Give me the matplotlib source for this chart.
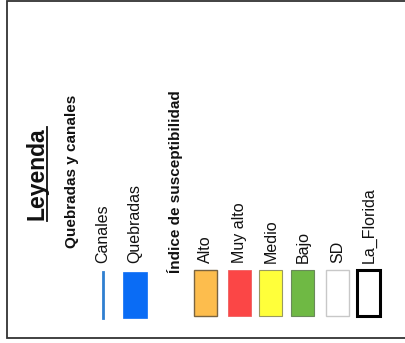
import matplotlib

matplotlib.use("Agg")

import matplotlib.pyplot as plt
from matplotlib.patches import Rectangle

plt.rcParams["font.family"] = ["Liberation Sans", "DejaVu Sans"]

# legend content
title = "Leyenda"
group_titles = ["Quebradas y canales", "Índice de susceptibilidad"]
drain_labels = ["Canales", "Quebradas"]
drain_colors = ["#2f7fd0", "#0a6cf5"]
index_labels = ["Alto", "Muy alto", "Medio", "Bajo", "SD", "La_Florida"]
index_faces = ["#fdbd4d", "#fb4646", "#ffff3a", "#6fb944", "#ffffff", "#ffffff"]
index_edges = ["#7a6440", "#f06060", "#9a9a60", "#6a8a5a", "#c8c8c8", "#000000"]
index_widths = [1.0, 0.6, 0.8, 0.8, 1.0, 2.2]

W, H = 406, 343
fig = plt.figure(figsize=(W / 100, H / 100), dpi=100)
ax = fig.add_axes([0, 0, 1, 1])
ax.set_xlim(0, W)
ax.set_ylim(H, 0)
ax.axis("off")

# frame (open on the right, cut by the image edge)
ax.plot([W + 5, 7.5, 7.5, W + 5], [1.2, 1.2, 338, 338], color="#333333", lw=1.3,
        clip_on=False, solid_joinstyle="miter")

def vtext(x, y, s, size, weight="normal"):
    return ax.text(x, y, s, rotation=90, rotation_mode="anchor", ha="left",
                   va="center", fontsize=size, fontweight=weight, color="#111111")

vtext(37.5, 220, title, 16.5, "bold")
ax.plot([47.5, 47.5], [127, 220.5], color="#111111", lw=1.3)

vtext(72, 248, group_titles[0], 11, "bold")
vtext(175, 273, group_titles[1], 11, "bold")

# drainage items
drain_x = [103, 135]
for x, lab in zip(drain_x, drain_labels):
    vtext(x, 263, lab, 11.5)
ax.plot([drain_x[0], drain_x[0]], [272, 318], color=drain_colors[0], lw=2)
ax.add_patch(Rectangle((drain_x[1] - 12, 272), 24, 46, facecolor=drain_colors[1],
                       edgecolor=drain_colors[1], lw=0.5))

# susceptibility classes
idx_x = [205.5, 239.5, 271, 303, 337.5, 369]
for x, lab, fc, ec, lw in zip(idx_x, index_labels, index_faces, index_edges, index_widths):
    vtext(x, 263, lab, 11.5)
    ax.add_patch(Rectangle((x - 11.5, 269.5), 23, 46.5, facecolor=fc, edgecolor=ec, lw=lw))

fig.savefig("out.png", dpi=100)
plt.close(fig)
